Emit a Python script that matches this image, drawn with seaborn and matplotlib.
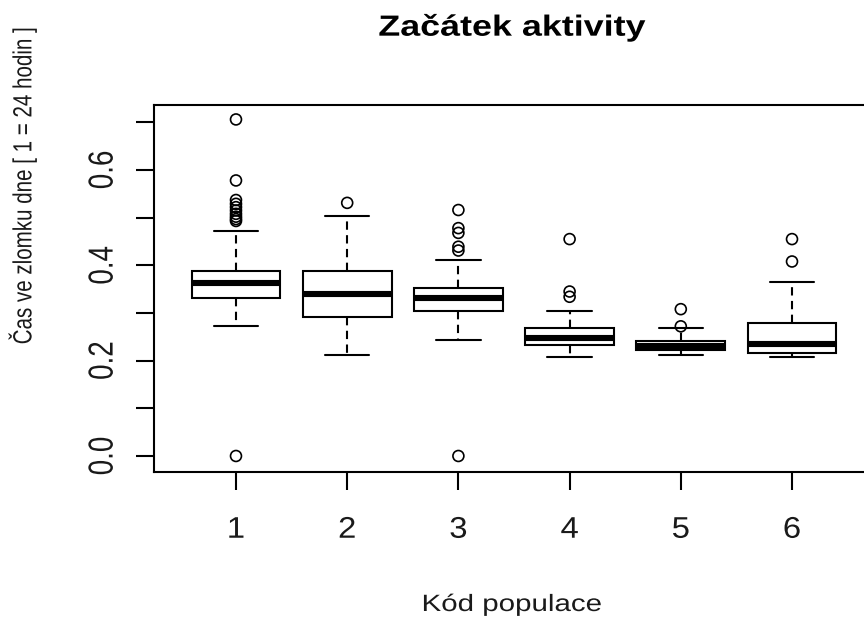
import matplotlib
matplotlib.use("Agg")
import matplotlib.pyplot as plt
from matplotlib import patheffects
from matplotlib.transforms import Affine2D
import pandas as pd
import seaborn as sns

# Population codes
populace = [1, 2, 3, 4, 5, 6]

# Five-number summaries of the activity start (fraction of a day)
dolni_vous = [0.273, 0.212, 0.244, 0.208, 0.2125, 0.208]
dolni_kvartil = [0.332, 0.292, 0.3035, 0.232, 0.223, 0.216]
median = [0.3635, 0.340, 0.332, 0.248, 0.2315, 0.235]
horni_kvartil = [0.388, 0.388, 0.352, 0.268, 0.2405, 0.280]
horni_vous = [0.472, 0.504, 0.412, 0.304, 0.269, 0.364]

# Outlying observations per population
odlehle = [
    [0.0, 0.493, 0.497, 0.502, 0.508, 0.515, 0.522, 0.529, 0.537, 0.578, 0.706],
    [0.531],
    [0.0, 0.431, 0.439, 0.468, 0.478, 0.516],
    [0.334, 0.345, 0.455],
    [0.272, 0.308],
    [0.408, 0.455],
]

y_ticks = [0.0, 0.1, 0.2, 0.3, 0.4, 0.5, 0.6, 0.7]
y_tick_labels = ["0.0", "", "0.2", "", "0.4", "", "0.6", ""]
x_tick_labels = ["1", "2", "3", "4", "5", "6"]

titulek = "Začátek aktivity"
popis_x = "Kód populace"
popis_y = "Čas ve zlomku dne [ 1 = 24 hodin ]"


class Widen(patheffects.AbstractPathEffect):
    """Draw glyph outlines widened around their own centre."""

    def __init__(self, along=1.0, across=1.0):
        super().__init__()
        self._sx = along
        self._sy = across

    def draw_path(self, renderer, gc, tpath, affine, rgbFace=None):
        ext = tpath.get_extents()
        cx = 0.5 * (ext.x0 + ext.x1)
        cy = 0.5 * (ext.y0 + ext.y1)
        pre = (Affine2D().translate(-cx, -cy)
               .scale(self._sx, self._sy).translate(cx, cy))
        renderer.draw_path(gc, tpath, pre + affine, rgbFace)


sns.set_theme(style="ticks")
plt.rcParams["font.family"] = ["Liberation Sans", "DejaVu Sans"]

# Long table: each population contributes its summary values
souhrn = pd.DataFrame({
    "kod": [k for k in populace for _ in range(5)],
    "cas": [v for i in range(len(populace))
            for v in (dolni_vous[i], dolni_kvartil[i], median[i],
                      horni_kvartil[i], horni_vous[i])],
})
body = pd.DataFrame({
    "kod": [k for k, vals in zip(populace, odlehle) for _ in vals],
    "cas": [v for vals in odlehle for v in vals],
})

W, H = 864, 617
fig = plt.figure(figsize=(W / 100, H / 100), dpi=100)
left, right, top, bottom = 153.7, 874.3, 105, 472
ax = fig.add_axes([left / W, 1 - bottom / H, (right - left) / W, (bottom - top) / H])

lw = 1.5
sns.boxplot(
    data=souhrn, x="kod", y="cas", orient="x", native_scale=True,
    whis=(0, 100), width=0.8, color="white", linecolor="black",
    linewidth=lw, showfliers=False, saturation=1, ax=ax,
    medianprops=dict(linewidth=4.4, solid_capstyle="butt"),
    whiskerprops=dict(linestyle=(0, (4, 2.6))),
)
sns.scatterplot(
    data=body, x="kod", y="cas", marker="o", s=62, facecolor="none",
    edgecolor="black", linewidth=1.2, legend=False, ax=ax, zorder=5,
)

ax.set_xlim(0.26, 6.74)
ax.set_ylim(-0.0336, 0.7363)
ax.set_xticks(populace, x_tick_labels)
ax.set_yticks(y_ticks)
ax.set_yticklabels(y_tick_labels, rotation=90, va="center")

for side in ["left", "right", "top", "bottom"]:
    ax.spines[side].set_visible(True)
    ax.spines[side].set_color("black")
    ax.spines[side].set_linewidth(lw)
ax.set_facecolor("white")
ax.grid(False)

ax.tick_params(axis="both", direction="out", length=13, width=lw,
               color="black", labelcolor="#1a1a1a")
ax.tick_params(axis="x", pad=18.5, labelsize=21.5)
ax.tick_params(axis="y", pad=14, labelsize=20)

ax.set_title(titulek, fontsize=21, fontweight="bold", color="black",
             x=(512 - left) / (right - left), y=(bottom - 44) / (bottom - top),
             va="baseline")
ax.set_xlabel(popis_x, fontsize=17, color="#1a1a1a")
ax.xaxis.set_label_coords((512 - left) / (right - left), (bottom - 611) / (bottom - top))
ax.xaxis.label.set_va("baseline")
ax.set_ylabel(popis_y, fontsize=14.8, color="#1a1a1a")
ax.yaxis.set_label_coords((22.5 - left) / (right - left), (bottom - 186) / (bottom - top))
ax.yaxis.label.set_va("center")

ax.title.set_path_effects([Widen(along=1.23)])
ax.xaxis.label.set_path_effects([Widen(along=1.25)])
ax.yaxis.label.set_path_effects([Widen(across=1.28)])
for t in ax.get_xticklabels():
    t.set_path_effects([Widen(along=1.1)])
for t in ax.get_yticklabels():
    t.set_path_effects([Widen(across=1.25)])

fig.savefig("out.png", dpi=100, facecolor="white")
